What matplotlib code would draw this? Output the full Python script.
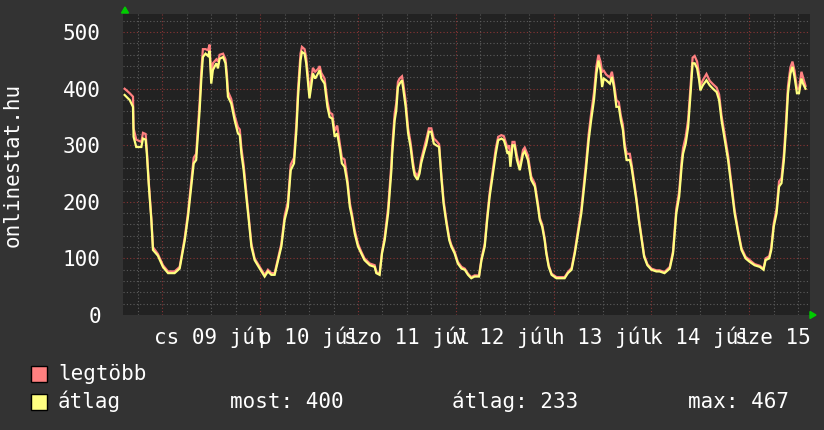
import matplotlib
matplotlib.use("Agg")
import matplotlib.pyplot as plt
from matplotlib.patches import Rectangle, Polygon

# ---- data (hours from midnight of 09 júl) ----
hours = [-9.25, -8.0, -7.2, -7.05, -6.4, -5.15, -4.75, -4.1, -3.8, -3.3, -2.7, -2.3, -1.1, 0.15, 1.4, 3.0,
         4.25, 4.7, 5.5, 6.3, 7.1, 7.7, 8.3, 8.75, 9.15, 9.55, 9.95, 10.6, 11.2, 11.6, 12.0, 12.4, 13.25,
         13.65, 14.05, 14.9, 15.5, 15.85, 16.1, 16.9, 17.75, 18.55, 19.0, 19.4, 19.95, 20.6, 21.2, 21.85,
         22.65, 23.9, 25.1, 25.9, 26.75, 27.55, 28.4, 29.2, 30.0, 30.8, 31.5, 32.3, 32.9, 33.3, 33.9, 34.25,
         34.9, 35.3, 35.7, 36.1, 36.5, 36.95, 37.5, 38.2, 38.6, 39.0, 39.8, 40.5, 41.05, 41.7, 42.3, 42.9,
         43.6, 44.05, 44.7, 45.4, 46.0, 46.5, 47.2, 48.0, 48.8, 49.6, 50.9, 52.1, 52.5, 53.3, 53.9, 54.55,
         55.4, 56.2, 56.4, 57.0, 57.4, 57.8, 58.2, 58.8, 59.1, 59.7, 60.3, 60.9, 61.5, 61.9, 62.6, 63.1,
         63.5, 64.1, 64.8, 65.4, 66.0, 66.6, 67.2, 67.9, 68.5, 69.0, 69.7, 70.4, 70.9, 71.7, 72.5, 73.4,
         74.2, 75.0, 75.8, 76.6, 77.7, 78.3, 79.1, 79.7, 80.3, 81.1, 81.8, 82.4, 83.2, 83.8, 84.3, 84.7,
         85.1, 85.4, 85.9, 86.4, 87.0, 87.7, 88.5, 88.9, 89.7, 90.5, 91.4, 92.2, 92.6, 93.2, 93.8, 94.2,
         94.8, 95.5, 96.7, 97.9, 98.7, 99.5, 100.4, 101.2, 102.0, 102.8, 103.5, 104.0, 104.6, 105.2, 105.9,
         106.5, 107.0, 107.5, 107.9, 108.3, 108.9, 109.8, 110.3, 110.8, 111.4, 112.0, 112.5, 113.0, 113.4,
         113.9, 114.7, 115.1, 115.8, 116.3, 116.9, 117.5, 118.2, 119.0, 120.0, 121.2, 122.0, 123.2, 124.5,
         125.3, 126.1, 126.8, 127.4, 127.75, 128.4, 129.0, 129.6, 130.1, 130.6, 131.2, 131.7, 132.0, 132.6,
         133.5, 134.3, 135.1, 136.0, 136.6, 137.2, 138.0, 138.8, 139.6, 140.4, 141.3, 142.1, 143.1, 144.1,
         145.3, 146.6, 147.5, 148.0, 148.9, 149.4, 150.0, 150.7, 151.3, 151.9, 152.5, 153.0, 153.5, 154.1,
         154.6, 155.1, 155.7, 156.2, 156.8, 157.2, 157.8]

atlag = [389, 380, 368, 315, 297, 297, 312, 310, 285, 227, 168, 115, 105, 85, 74, 74,
         82, 100, 132, 174, 227, 268, 274, 321, 362, 415, 456, 462, 458, 467, 409, 433, 445,
         436, 453, 456, 445, 415, 386, 374, 344, 321, 318, 285, 256, 209, 168, 121,
         97, 82, 68, 77, 71, 71, 97, 121, 168, 191, 256, 268, 327, 386, 450, 465,
         462, 445, 415, 383, 403, 427, 418, 427, 433, 418, 409, 368, 350, 347, 315, 321,
         292, 268, 262, 233, 191, 174, 144, 121, 109, 97, 88, 85, 74, 71, 109, 132,
         180, 256, 285, 344, 362, 403, 409, 415, 400, 368, 321, 297, 262, 247, 239, 250,
         268, 285, 303, 324, 324, 303, 300, 297, 239, 197, 162, 132, 121, 109, 91, 82,
         80, 71, 65, 68, 68, 97, 121, 168, 209, 250, 285, 309, 312, 309, 297, 285,
         289, 262, 300, 300, 274, 256, 285, 289, 274, 239, 227, 189, 168, 156, 132, 109,
         85, 71, 65, 65, 65, 74, 80, 109, 144, 180, 227, 262, 309, 344, 380,
         427, 450, 433, 403, 418, 415, 409, 421, 403, 368, 368, 344, 327, 297,
         274, 274, 262, 227, 203, 168, 138, 103, 88, 80, 77, 77, 74, 82,
         109, 180, 209, 262, 285, 303, 332, 392, 445, 445, 436, 415, 397, 406,
         415, 406, 400, 394, 380, 344, 309, 274, 227, 180, 144, 115, 100, 94,
         88, 85, 80, 97, 100, 115, 156, 180, 227, 233, 274, 327, 392, 427,
         439, 421, 392, 392, 418, 409, 400]

legtobb = [400, 392, 386, 330, 310, 306, 322, 320, 292, 232, 172, 120, 108, 88, 77, 77,
           85, 104, 137, 181, 236, 278, 285, 333, 376, 430, 470, 470, 468, 478, 420, 445, 452,
           448, 460, 462, 452, 425, 395, 382, 352, 332, 328, 295, 265, 218, 175, 126,
           100, 85, 71, 80, 74, 74, 101, 126, 175, 200, 266, 278, 340, 400, 462, 474,
           470, 455, 425, 392, 415, 437, 430, 435, 440, 428, 418, 378, 358, 355, 325, 335,
           300, 278, 275, 240, 198, 180, 150, 126, 112, 100, 91, 88, 76, 73, 112, 138,
           190, 268, 298, 356, 375, 412, 418, 422, 410, 378, 330, 305, 270, 253, 245, 256,
           275, 292, 312, 330, 330, 312, 308, 302, 245, 203, 167, 136, 124, 112, 94, 85,
           82, 73, 67, 70, 70, 100, 126, 174, 216, 258, 294, 315, 318, 316, 304, 295,
           300, 270, 306, 306, 282, 262, 292, 296, 282, 245, 232, 195, 172, 160, 136, 112,
           88, 73, 67, 67, 67, 76, 83, 113, 150, 188, 236, 272, 320, 356, 393,
           440, 460, 448, 430, 432, 425, 420, 430, 410, 380, 376, 352, 336, 305,
           285, 285, 268, 233, 208, 172, 142, 106, 90, 82, 79, 79, 76, 85,
           113, 188, 218, 272, 295, 315, 345, 405, 455, 458, 448, 425, 405, 415,
           426, 414, 408, 402, 390, 352, 318, 282, 234, 186, 148, 118, 103, 97,
           90, 87, 82, 100, 104, 120, 162, 188, 236, 242, 285, 340, 405, 438,
           448, 432, 400, 400, 430, 420, 405]

day_labels = ["cs 09 júl", "p 10 júl", "szo 11 júl", "v 12 júl", "h 13 júl", "k 14 júl", "sze 15 júl"]
y_ticks = [0, 100, 200, 300, 400, 500]
legend_names = ["legtöbb", "átlag"]
stats = ["most: 400", "átlag: 233", "max: 467"]

# ---- style ----
W, H = 824, 430
BG = "#333333"
PLOT_BG = "#222222"
RED = "#ff8080"
YEL = "#ffff80"
FONT = "DejaVu Sans Mono"
FS = 15

fig = plt.figure(figsize=(W / 100, H / 100), dpi=100, facecolor=BG)
L, R, T, B = 123, 810, 13.5, 315
ax = fig.add_axes([L / W, 1 - B / H, (R - L) / W, (B - T) / H])
ax.set_facecolor(PLOT_BG)
XMIN, XMAX = -9.65, 158.9
YMAX = 533
ax.set_xlim(XMIN, XMAX)
ax.set_ylim(0, YMAX)
for s in ax.spines.values():
    s.set_visible(False)

dot = (0, (1, 2))
# minor horizontal grid
for v in range(20, YMAX, 20):
    if v % 100:
        ax.axhline(v, color="#5c5c5c", lw=0.8, ls=dot, zorder=1)
for v in range(100, YMAX, 100):
    ax.axhline(v, color="#8a3535", lw=0.8, ls=dot, zorder=1)
h = -6
while h < XMAX:
    if h > XMIN:
        if h % 24 == 0:
            ax.axvline(h, color="#8a3535", lw=0.8, ls=dot, zorder=1)
        else:
            ax.axvline(h, color="#5c5c5c", lw=0.8, ls=dot, zorder=1)
    h += 6

ax.plot(hours, legtobb, color=RED, lw=1.6, zorder=3, solid_joinstyle="miter")
ax.plot(hours, atlag, color=YEL, lw=1.6, zorder=4, solid_joinstyle="miter")

ax.set_yticks(y_ticks)
ax.set_yticklabels([str(v) for v in y_ticks], fontfamily=FONT, fontsize=FS, color="white")
ax.tick_params(axis="y", length=0, pad=16)
ax.set_xticks([12 + 24 * i for i in range(len(day_labels))])
ax.set_xticklabels(day_labels, fontfamily=FONT, fontsize=FS, color="white")
ax.tick_params(axis="x", length=0, pad=8)
for lab in ax.get_xticklabels():
    lab.set_clip_on(False)

fig.text(13 / W, 1 - 165 / H, "onlinestat.hu", rotation=90, ha="center", va="center",
         fontfamily=FONT, fontsize=FS, color="white")

# green arrows
fig.patches.append(Polygon([(121.5 / W, 1 - 13 / H), (128.5 / W, 1 - 13 / H), (125 / W, 1 - 7 / H)],
                           closed=True, color="#00cc00", transform=fig.transFigure))
fig.patches.append(Polygon([(810 / W, 1 - 311.5 / H), (810 / W, 1 - 318.5 / H), (816 / W, 1 - 315 / H)],
                           closed=True, color="#00cc00", transform=fig.transFigure))

# legend
for i, (name, col) in enumerate(zip(legend_names, [RED, YEL])):
    yc = 374 + 27.5 * i
    fig.patches.append(Rectangle((31.5 / W, 1 - (yc + 8) / H), 15.5 / W, 16 / H, facecolor=col,
                                 edgecolor="black", lw=1, transform=fig.transFigure))
    fig.text(58 / W, 1 - yc / H, name, ha="left", va="center", fontfamily=FONT, fontsize=FS, color="white")
for xs, st in zip([230, 452, 688], stats):
    fig.text(xs / W, 1 - 401.5 / H, st, ha="left", va="center", fontfamily=FONT, fontsize=FS, color="white")

fig.savefig("out.png", dpi=100, facecolor=BG)
